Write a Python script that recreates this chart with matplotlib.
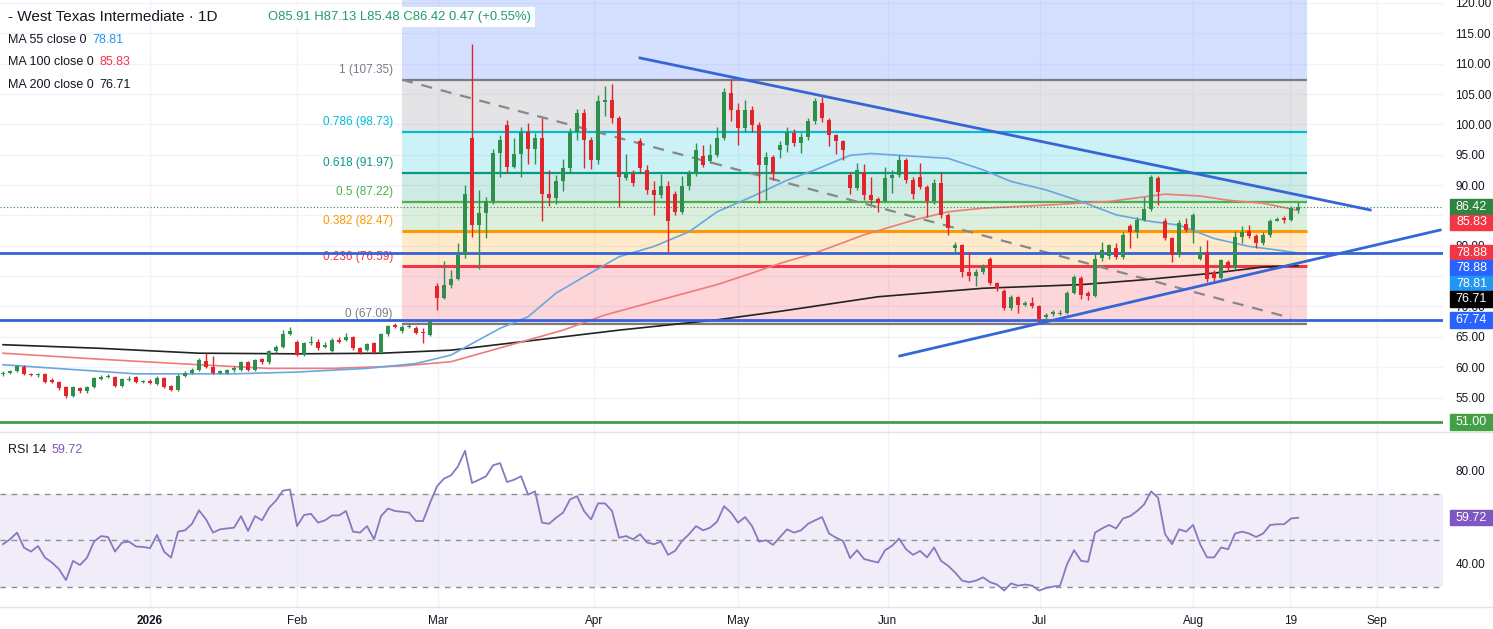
import numpy as np
import matplotlib
matplotlib.use("Agg")
import matplotlib.pyplot as plt
from matplotlib.patches import Rectangle
from matplotlib.lines import Line2D
from matplotlib.transforms import blended_transform_factory

plt.rcParams["font.family"] = ["Liberation Sans", "DejaVu Sans"]

# daily candles, WTI
opens = [58.9, 59.1, 59.4, 60.1, 58.9, 58.7, 58.8, 57.9, 57.6, 56.7,
         55.3, 56.6, 56.0, 56.7, 58.1, 58.4, 58.4, 56.9, 57.9, 58.3,
         57.6, 57.7, 57.2, 58.2, 56.9, 56.2, 58.6, 59.1, 59.5, 61.0,
         60.1, 59.0, 59.0, 59.6, 59.5, 60.8, 59.5, 61.3, 60.8, 62.6,
         63.4, 65.5, 64.2, 62.0, 63.9, 64.2, 63.3, 62.7, 64.5, 64.5,
         65.0, 63.1, 62.9, 63.9, 62.3, 65.4, 67.0, 65.9, 66.7, 66.4,
         65.7, 65.3, 73.3, 71.4, 73.5, 74.6, 78.5, 97.7, 83.4, 85.4,
         87.3, 95.3, 99.9, 93.0, 95.2, 98.8, 96.0, 97.7, 88.5, 87.8,
         90.6, 92.8, 98.8, 101.8, 97.4, 94.1, 103.7, 104.0, 101.0, 91.2,
         91.9, 97.2, 92.5, 89.2, 88.3, 89.8, 88.5, 85.6, 89.8, 91.9,
         94.8, 94.0, 95.0, 97.7, 105.2, 102.4, 99.4, 102.4, 99.9, 93.3,
         94.7, 95.8, 96.6, 98.6, 96.9, 98.0, 100.5, 103.6, 100.7, 98.2,
         97.2, 91.7, 89.5, 92.2, 88.4, 87.7, 87.4, 91.1, 91.7, 94.2,
         90.8, 91.4, 89.7, 87.3, 90.3, 85.1, 79.6, 80.1, 75.7, 75.0,
         75.6, 77.9, 73.8, 72.6, 69.7, 71.5, 70.3, 70.6, 70.0, 68.2,
         68.8, 68.8, 69.0, 72.3, 74.7, 72.2, 71.7, 78.0, 78.3, 79.6,
         78.2, 83.3, 82.2, 84.3, 86.0, 91.1, 84.0, 81.2, 78.5, 83.6,
         82.6, 77.8, 79.0, 75.6, 74.7, 77.4, 76.3, 81.4, 82.5, 81.6,
         80.4, 81.8, 84.1, 84.6, 84.3, 85.91]
highs = [59.4, 59.6, 60.4, 60.3, 59.1, 59.0, 59.0, 58.2, 57.8, 56.9,
         56.9, 56.8, 56.9, 58.4, 58.7, 58.8, 58.6, 58.2, 58.5, 58.6,
         57.9, 58.0, 58.6, 58.4, 57.1, 58.8, 59.4, 59.8, 61.5, 62.4,
         61.8, 59.6, 59.7, 60.2, 61.0, 61.0, 61.4, 61.5, 62.9, 63.6,
         66.2, 66.6, 64.5, 64.2, 65.1, 64.6, 64.2, 64.8, 64.9, 65.7,
         65.2, 63.3, 64.0, 64.1, 65.6, 67.0, 67.3, 66.9, 67.2, 66.8,
         66.4, 67.7, 73.8, 77.5, 76.0, 80.4, 90.0, 113.2, 89.2, 88.0,
         96.0, 98.3, 100.8, 97.7, 99.6, 100.3, 98.5, 101.0, 92.5, 91.6,
         94.3, 99.4, 102.5, 102.6, 98.0, 104.8, 106.3, 106.7, 101.3, 95.2,
         92.5, 97.8, 93.3, 90.6, 91.9, 90.6, 89.0, 91.5, 92.5, 96.9,
         96.6, 96.8, 99.6, 106.0, 107.4, 103.5, 104.0, 103.0, 100.4, 95.4,
         95.0, 97.3, 99.5, 99.2, 98.6, 101.0, 104.3, 104.5, 101.0, 98.4,
         97.5, 92.2, 93.6, 93.4, 91.4, 88.0, 93.0, 92.5, 95.0, 94.5,
         91.3, 93.6, 90.0, 91.0, 92.2, 85.4, 80.6, 80.3, 79.0, 76.1,
         77.0, 78.1, 74.1, 72.8, 71.9, 71.8, 70.9, 71.5, 70.2, 68.9,
         69.5, 69.5, 72.6, 75.2, 75.0, 72.5, 78.8, 80.7, 80.3, 80.4,
         82.3, 83.6, 84.8, 88.1, 91.7, 91.5, 84.5, 81.5, 84.2, 84.5,
         85.4, 80.0, 80.9, 76.0, 77.9, 77.6, 82.5, 83.3, 83.5, 82.0,
         82.2, 84.4, 84.8, 84.9, 86.6, 87.13]
lows = [58.6, 58.9, 59.2, 58.7, 58.5, 58.4, 57.4, 57.4, 56.3, 55.0,
        55.1, 55.8, 55.8, 56.5, 57.9, 58.2, 56.7, 56.7, 57.7, 57.4,
        57.4, 57.2, 57.0, 56.6, 56.0, 56.1, 58.4, 58.9, 59.4, 59.8,
        58.8, 58.9, 58.9, 59.2, 59.3, 59.3, 59.3, 60.6, 60.6, 62.4,
        63.2, 65.3, 61.8, 61.8, 63.7, 62.9, 63.1, 62.5, 63.9, 64.3,
        62.9, 62.2, 62.7, 62.1, 62.1, 65.2, 66.5, 65.7, 66.4, 65.4,
        63.9, 65.1, 69.5, 71.2, 73.1, 74.3, 78.0, 81.5, 76.2, 81.2,
        86.9, 91.4, 92.0, 92.8, 91.4, 93.4, 93.5, 84.0, 86.5, 86.8,
        89.0, 92.0, 97.5, 92.8, 92.6, 93.5, 101.3, 100.2, 86.4, 90.8,
        89.8, 92.0, 88.5, 85.1, 87.8, 79.0, 85.0, 85.2, 89.2, 91.5,
        92.9, 93.6, 94.6, 97.4, 100.5, 96.6, 98.8, 98.8, 87.0, 87.6,
        90.8, 94.4, 95.5, 96.5, 95.3, 97.5, 100.0, 100.4, 96.5, 95.2,
        94.1, 88.5, 89.2, 87.5, 86.9, 85.6, 87.2, 88.7, 91.3, 90.4,
        87.7, 89.3, 84.8, 86.8, 84.5, 81.8, 78.7, 74.8, 74.2, 73.3,
        75.3, 73.5, 72.6, 69.4, 69.4, 68.9, 70.0, 69.8, 67.3, 67.5,
        68.5, 68.6, 68.8, 72.0, 71.3, 71.1, 71.5, 77.5, 77.8, 77.9,
        77.8, 79.6, 81.2, 84.0, 85.7, 86.7, 81.0, 77.4, 78.2, 82.3,
        80.4, 77.6, 74.1, 73.9, 74.5, 75.9, 76.0, 80.5, 81.2, 79.6,
        80.1, 81.5, 84.0, 83.7, 84.1, 85.48]
closes = [59.1, 59.4, 60.2, 58.9, 58.7, 58.8, 57.6, 57.6, 56.5, 55.3,
          56.7, 56.0, 56.7, 58.2, 58.4, 58.5, 56.9, 58.0, 58.0, 57.6,
          57.7, 57.4, 58.2, 56.8, 56.2, 58.6, 59.1, 59.5, 61.2, 60.1,
          59.0, 59.4, 59.5, 59.8, 60.8, 59.5, 61.2, 60.8, 62.6, 63.4,
          65.5, 65.9, 62.0, 63.9, 64.2, 63.1, 63.7, 64.5, 64.2, 64.9,
          63.1, 62.4, 63.8, 62.3, 65.4, 66.8, 66.7, 66.7, 66.8, 65.6,
          65.6, 67.5, 71.4, 73.5, 74.6, 78.5, 88.6, 83.4, 85.4, 87.3,
          95.3, 97.4, 93.0, 95.2, 98.8, 96.0, 97.7, 88.5, 87.8, 90.6,
          92.8, 98.8, 101.8, 97.4, 94.1, 103.9, 104.0, 101.0, 91.4, 91.9,
          90.3, 92.8, 89.2, 88.3, 89.8, 84.0, 85.6, 89.8, 91.9, 95.8,
          93.3, 95.0, 97.7, 105.4, 102.4, 99.4, 102.4, 99.9, 93.3, 94.7,
          91.9, 96.6, 98.8, 96.9, 98.0, 100.5, 103.8, 101.0, 98.2, 97.2,
          95.8, 89.5, 92.5, 88.4, 87.5, 87.0, 91.1, 91.7, 94.2, 90.8,
          88.5, 89.7, 87.3, 90.3, 85.1, 82.9, 80.1, 75.7, 75.0, 75.6,
          76.6, 73.8, 73.0, 69.7, 71.5, 70.2, 70.5, 70.0, 68.0, 68.6,
          69.1, 69.0, 72.3, 74.9, 71.9, 71.7, 77.9, 79.3, 80.1, 78.2,
          81.8, 82.2, 84.3, 86.0, 91.3, 88.9, 81.2, 78.5, 83.8, 82.6,
          85.1, 79.0, 74.6, 74.7, 77.7, 76.3, 81.4, 82.3, 81.6, 80.4,
          81.8, 84.1, 84.4, 84.3, 86.2, 86.42]

rsi = [48.3, 50.4, 53.3, 46.8, 45.1, 47.5, 42.5, 40.4, 37.5, 32.8,
       41.1, 39.3, 42.5, 49.4, 51.8, 51.4, 45.1, 49.0, 49.4, 47.3,
       47.1, 46.6, 52.3, 45.1, 42.5, 53.7, 54.3, 57.1, 62.9, 59.0,
       53.3, 54.7, 55.1, 55.4, 60.4, 54.0, 60.4, 58.6, 64.0, 67.1,
       71.4, 71.9, 56.1, 60.9, 61.4, 57.6, 58.6, 60.7, 60.7, 62.6,
       53.7, 53.3, 56.1, 50.4, 60.4, 63.7, 62.6, 62.3, 61.9, 58.3,
       58.3, 66.1, 73.3, 76.6, 78.0, 81.9, 88.6, 74.7, 76.1, 77.6,
       82.3, 83.3, 75.1, 76.1, 77.6, 69.7, 71.1, 57.6, 57.1, 59.7,
       61.9, 67.6, 69.0, 62.6, 59.0, 65.9, 65.9, 62.6, 51.1, 51.8,
       50.4, 52.6, 49.0, 48.3, 49.4, 43.7, 45.4, 49.7, 52.6, 56.1,
       54.3, 55.4, 58.0, 64.7, 61.9, 57.6, 60.0, 56.1, 49.4, 50.0,
       48.0, 51.4, 54.7, 53.3, 54.3, 57.1, 58.6, 60.0, 52.9, 51.1,
       49.7, 42.3, 45.7, 41.9, 41.1, 40.4, 45.7, 47.6, 50.7, 46.1,
       43.7, 45.4, 42.6, 46.9, 41.1, 39.0, 36.1, 32.6, 31.9, 32.6,
       34.0, 31.9, 30.9, 28.3, 31.4, 30.4, 30.9, 30.4, 28.3, 29.4,
       30.0, 30.4, 39.7, 45.7, 41.1, 40.7, 53.3, 55.1, 56.6, 55.1,
       59.4, 60.4, 62.6, 65.4, 71.1, 68.3, 52.6, 48.3, 54.7, 53.7,
       56.6, 48.3, 42.6, 42.6, 46.9, 46.1, 52.9, 53.7, 52.9, 51.4,
       52.9, 56.6, 56.9, 56.9, 59.4, 59.72]

# moving averages, sampled along the lines (bar index, value)
ma55_i = [0, 19, 33, 42, 52, 59, 64, 71, 75, 79, 83, 88, 93, 98, 102, 107, 112,
          116, 121, 124, 128, 135, 140, 144, 149, 154, 159, 164, 168, 173, 178, 182, 185]
ma55_v = [60.4, 58.9, 58.9, 59.2, 59.8, 60.6, 62.0, 66.4, 68.3, 72.2, 74.9, 78.2, 79.9,
          82.3, 85.6, 88.1, 90.8, 92.5, 94.9, 95.2, 94.9, 94.4, 92.5, 90.6, 89.2, 87.3,
          85.1, 84.0, 83.4, 81.2, 79.9, 79.3, 78.81]
ma100_i = [0, 14, 28, 38, 47, 57, 64, 72, 80, 86, 93, 102, 107, 111, 116, 123, 130,
           135, 140, 149, 158, 166, 171, 175, 180, 185]
ma100_v = [62.3, 61.3, 60.4, 59.8, 59.8, 60.2, 60.9, 63.5, 66.1, 68.6, 70.8, 73.6, 75.5,
           77.1, 78.8, 81.8, 84.2, 85.6, 86.2, 86.7, 87.3, 88.5, 88.2, 87.5, 87.0, 85.83]
ma200_i = [0, 14, 28, 42, 54, 64, 88, 102, 111, 125, 140, 154, 163, 173, 180, 185]
ma200_v = [63.7, 63.1, 62.3, 62.2, 62.3, 62.8, 66.1, 67.8, 69.2, 71.6, 73.0, 73.6, 74.4,
           75.5, 76.5, 76.71]

# fibonacci retracement drawing
fib_ratios = [0, 0.236, 0.382, 0.5, 0.618, 0.786, 1, 1.618]
fib_values = [67.09, 76.59, 82.47, 87.22, 91.97, 98.73, 107.35, 132.23]
fib_colors = ["#787b86", "#f23645", "#ff9800", "#4caf50", "#089981", "#00bcd4", "#787b86", "#2962ff"]
fib_span = (57, 186.3)

# other drawings: (bar index pair, price pair)
resist_line = ([91, 195.3], [110.94, 85.9])
support_line = ([128.1, 205.3], [61.85, 82.6])
dashed_line = ([57, 184], [107.35, 68.1])
blue_levels = [78.88, 67.74]
green_level = 51.00

tag_values = [86.42, 85.83, 78.88, 78.88, 78.81, 76.71, 67.74, 51.00]
tag_colors = ["#2e8540", "#f23645", "#f23645", "#2962ff", "#2196f3", "#000000", "#2962ff", "#43a047"]

month_labels = ["2026", "Feb", "Mar", "Apr", "May", "Jun", "Jul", "Aug", "19", "Sep"]
month_pos = [21, 42, 62.1, 84.4, 105, 126.4, 148.1, 170, 183.9, 196.3]
price_ticks = np.arange(55, 121, 5)
hidden_ticks = [75, 85]   # fully under the price tags in the original

W, H = 1493, 629
fig = plt.figure(figsize=(W / 100, H / 100), dpi=100)
ax = fig.add_axes([0, (H - 432) / H, 1443 / W, 432 / H])
rx = fig.add_axes([0, (H - 607) / H, 1443 / W, 175 / H], sharex=ax)

o = np.array(opens); c = np.array(closes); hi = np.array(highs); lo = np.array(lows)
idx = np.arange(len(c))
up = c >= o
col = np.where(up, "#2f8f4c", "#e3242b")

# fib zones
for k in range(1, len(fib_values)):
    ax.fill_between(fib_span, fib_values[k - 1], fib_values[k], color=fib_colors[k],
                    alpha=0.2, lw=0, zorder=0.5)
for r, v, fc in zip(fib_ratios, fib_values, fib_colors):
    if v > 120:
        continue
    ax.hlines(v, *fib_span, color=fc, lw=2.2 if r in (0.236, 0.382) else 1.6, zorder=1)
    ax.text(fib_span[0] - 1.3, v + 0.6, f"{r:g} ({v:.2f})", color=fc, fontsize=8.5,
            ha="right", va="bottom", zorder=1)

for m in month_pos:
    ax.axvline(m, color="#f0f3fa", lw=1, zorder=0)
    rx.axvline(m, color="#f0f3fa", lw=1, zorder=0)
for p in price_ticks:
    ax.axhline(p, color="#f0f3fa", lw=1, zorder=0)

ax.plot(*dashed_line, color="#888888", lw=1.6, ls=(0, (5, 4)), zorder=2)
ax.plot(ma200_i, ma200_v, color="#222222", lw=1.2, zorder=2)
ax.plot(ma100_i, ma100_v, color="#ef7b7b", lw=1.2, zorder=2)
ax.plot(ma55_i, ma55_v, color="#6aa7e0", lw=1.2, zorder=2)

ax.vlines(idx, lo, hi, colors=col, lw=1, zorder=3)
ax.bar(idx, np.maximum(np.abs(c - o), 0.15), bottom=np.minimum(o, c), width=0.62,
       color=col, lw=0, zorder=3)

for v in blue_levels:
    ax.axhline(v, color="#3463d9", lw=2, zorder=2.5)
ax.axhline(green_level, color="#43a047", lw=2, zorder=2.5)
ax.axhline(closes[-1], color="#2e8540", lw=0.8, ls=(0, (1, 2)), zorder=2.5)
ax.plot(*resist_line, color="#3566d6", lw=2, zorder=4)
ax.plot(*support_line, color="#3566d6", lw=2, zorder=4)

ax.set_xlim(-0.43, 205.7)
ax.set_ylim(49.32, 120.49)
ax.yaxis.tick_right()
ax.set_yticks(price_ticks)
ax.set_yticklabels(["" if p in hidden_ticks else f"{p:.2f}" for p in price_ticks])
ax.tick_params(axis="y", length=0, pad=9, labelsize=8.5, labelcolor="#131722")
ax.tick_params(axis="x", bottom=False, labelbottom=False)
for s in ax.spines.values():
    s.set_visible(False)

# price tags on the right axis, stacked downwards when they would overlap
trans = blended_transform_factory(ax.transAxes, ax.transData)
step = 2.55
prev = None
for v, tc in zip(tag_values, tag_colors):
    y = v if prev is None else min(v, prev - step)
    prev = y
    ax.add_patch(Rectangle((1450 / 1443, y - step / 2), 43 / 1443, step, transform=trans,
                           color=tc, clip_on=False, zorder=6))
    ax.text(1471.5 / 1443, y, f"{v:.2f}", transform=trans, color="white", fontsize=9,
            ha="center", va="center", clip_on=False, zorder=7)

# RSI pane
rx.axhspan(30, 70, color="#7e57c2", alpha=0.1, lw=0, zorder=0.5)
for v in (70, 50, 30):
    rx.axhline(v, color="#8a8d96", lw=1, ls=(0, (4, 4)), zorder=1)
rx.plot(idx, rsi, color="#8878c0", lw=1.3, zorder=3)
rx.set_ylim(21.2, 96.7)
rx.yaxis.tick_right()
rx.set_yticks([40, 60, 80])
rx.set_yticklabels(["40.00", "60.00", "80.00"])
rx.tick_params(axis="y", length=0, pad=9, labelsize=8.5, labelcolor="#131722")
rtrans = blended_transform_factory(rx.transAxes, rx.transData)
rx.add_patch(Rectangle((1450 / 1443, rsi[-1] - 3.3), 43 / 1443, 6.6, transform=rtrans,
                       color="#7e57c2", clip_on=False, zorder=6))
rx.text(1471.5 / 1443, rsi[-1], f"{rsi[-1]:.2f}", transform=rtrans, color="white",
        fontsize=9, ha="center", va="center", clip_on=False, zorder=7)
rx.set_xticks(month_pos)
rx.set_xticklabels(month_labels)
rx.tick_params(axis="x", length=0, pad=6, labelsize=8.5, labelcolor="#131722")
rx.get_xticklabels()[0].set_fontweight("bold")
for s in rx.spines.values():
    s.set_visible(False)

for yp in (432, 607):
    fig.add_artist(Line2D([0, 1], [1 - yp / H] * 2, color="#e0e3eb", lw=1))


# legends
def legend_row(axis, x, y, parts, size=9, bg=None):
    t = fig.text(x / W, 1 - y / H, parts[0][0], color=parts[0][1], fontsize=size,
                 va="center", zorder=8, bbox=bg)
    for s, pc in parts[1:]:
        t = axis.annotate(s, xy=(1, 0.5), xycoords=t, xytext=(4, 0), textcoords="offset points",
                          va="center", color=pc, fontsize=size, annotation_clip=False,
                          zorder=8, bbox=bg)
    return t


legend_row(ax, 8, 17, [("- West Texas Intermediate · 1D", "#131722")], size=11)
legend_row(ax, 268, 17, [("O85.91 H87.13 L85.48 C86.42 0.47 (+0.55%)", "#1e9c6c")], size=9.4,
           bg=dict(fc="white", ec="none", pad=3))
legend_row(ax, 8, 40, [("MA 55 close 0", "#131722"), ("78.81", "#2196f3")])
legend_row(ax, 8, 62, [("MA 100 close 0", "#131722"), ("85.83", "#f23645")])
legend_row(ax, 8, 85, [("MA 200 close 0", "#131722"), ("76.71", "#131722")])
legend_row(rx, 8, 450, [("RSI 14", "#131722"), ("59.72", "#7e57c2")])

fig.savefig("out.png", dpi=100)
